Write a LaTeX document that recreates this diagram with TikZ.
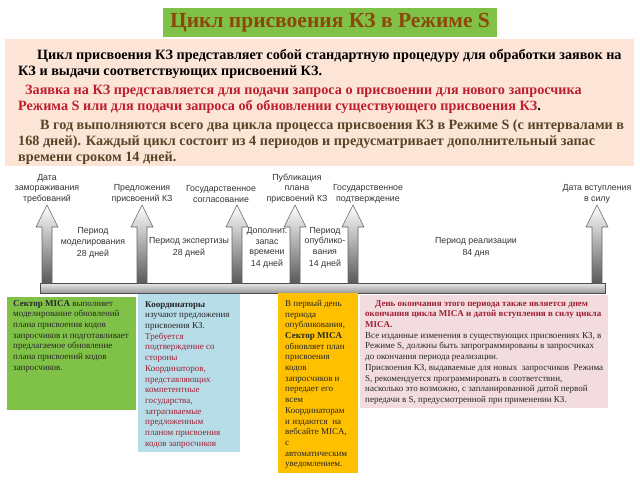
\documentclass[tikz,border=0pt]{standalone}
\usepackage{fontspec}
\setmainfont{Liberation Serif}
\setsansfont{Liberation Sans}
\usetikzlibrary{positioning}
\definecolor{titlegreen}{RGB}{128,194,72}
\definecolor{titlebrown}{RGB}{140,72,10}
\definecolor{peach}{RGB}{252,229,214}
\definecolor{introred}{RGB}{190,30,45}
\definecolor{introbrown}{RGB}{85,70,40}
\definecolor{boxred}{RGB}{160,30,50}
\definecolor{skyblue}{RGB}{183,221,232}
\definecolor{amber}{RGB}{255,192,0}
\definecolor{rose}{RGB}{242,220,224}

\begin{document}
\begin{tikzpicture}[x=1pt,y=-1pt,
  panel/.style={anchor=north west,inner sep=0pt,outer sep=0pt},
  intro/.style={anchor=north west,inner sep=0pt,align=left,font=\bfseries\fontsize{14.2}{16.2}\selectfont},
  note/.style={anchor=north west,inner sep=0pt,align=left,font=\fontsize{9}{10.7}\selectfont,text=black!85},
  milestone/.style={font=\sffamily\fontsize{8.8}{10.5}\selectfont,text=black!80,align=center},
  shaft/.style={top color=white,bottom color=black!65,draw=black!60,line width=0.6pt}]
  \useasboundingbox (0,0) rectangle (640,480);

  \node[fill=titlegreen,minimum width=334pt,minimum height=29pt,text=titlebrown,
        font=\bfseries\fontsize{21.5}{24}\selectfont] (title) at (330,22.5) {Цикл присвоения КЗ в Режиме S};

  \node[panel,fill=peach,minimum width=629pt,minimum height=127pt] (introbox) at (5,39) {};
  \node[intro] (introtext) at (18,49) {\hspace*{19pt}Цикл присвоения КЗ представляет собой стандартную процедуру для обработки заявок на\\
    КЗ и выдачи соответствующих присвоений КЗ.\\[3pt]
    \textcolor{introred}{\hspace*{7pt}Заявка на КЗ представляется для подачи запроса о присвоении для нового запросчика}\\
    \textcolor{introred}{Режима S или для подачи запроса об обновлении существующего присвоения КЗ}.\\[2pt]
    \textcolor{introbrown}{\hspace*{22pt}В год выполняются всего два цикла процесса присвоения КЗ в Режиме S (с интервалами в}\\
    \textcolor{introbrown}{168 дней). Каждый цикл состоит из 4 периодов и предусматривает дополнительный запас}\\
    \textcolor{introbrown}{времени сроком 14 дней.}};

  \shade[top color=black!8,bottom color=black!40,draw=black!70] (40,283) rectangle (605,293);
  \foreach \x in {47,142,237,295,353,597}
    \shade[shaft] (\x-5,283) -- (\x-5,227) -- (\x-11,227) -- (\x,205) -- (\x+11,227) -- (\x+5,227) -- (\x+5,283) -- cycle;

  \node[milestone] (freeze) at (47,188.5) {Дата\\замораживания\\требований};
  \node[milestone] (propose) at (142,194) {Предложения\\присвоений КЗ};
  \node[milestone] (agree) at (221,194) {Государственное\\согласование};
  \node[milestone] (publish) at (297,188.5) {Публикация\\плана\\присвоений КЗ};
  \node[milestone] (confirm) at (368,194) {Государственное\\подтверждение};
  \node[milestone] (effect) at (597,194) {Дата вступления\\в силу};

  \node[milestone] (model) at (93,243) {Период\\моделирования\\[2pt]28 дней};
  \node[milestone] (review) at (189,247.5) {Период экспертизы\\[2pt]28 дней};
  \node[milestone] (reserve) at (267,248) {Дополнит.\\запас\\времени\\[1pt]14 дней};
  \node[milestone] (publ) at (325,248) {Период\\опублико-\\вания\\[2pt]14 дней};
  \node[milestone] (impl) at (476,247.5) {Период реализации\\[2pt]84 дня};

  \node[panel,fill=titlegreen,minimum width=129pt,minimum height=113pt] (micabox) at (7,297) {};
  \node[note] (micatext) at (13,300) {\textbf{Сектор MICA} выполняет\\моделирование обновлений\\плана присвоения кодов\\запросчиков и подготавливает\\предлагаемое обновление\\плана присвоений кодов\\запросчиков.};

  \node[panel,fill=skyblue,minimum width=102pt,minimum height=158pt] (coordbox) at (138,294) {};
  \node[note] (coordtext) at (145,301) {\textbf{Координаторы}\\изучают предложения\\присвоения КЗ.\\
    \textcolor{boxred}{Требуется}\\\textcolor{boxred}{подтверждение со}\\\textcolor{boxred}{стороны}\\
    \textcolor{boxred}{Координаторов,}\\\textcolor{boxred}{представляющих}\\\textcolor{boxred}{компетентные}\\
    \textcolor{boxred}{государства,}\\\textcolor{boxred}{затрагиваемые}\\\textcolor{boxred}{предложенным}\\
    \textcolor{boxred}{планом присвоения}\\\textcolor{boxred}{кодов запросчиков}};

  \node[panel,fill=amber,minimum width=80pt,minimum height=180pt] (pubbox) at (278,293) {};
  \node[note] (pubtext) at (285,300) {В первый день\\периода\\опубликования,\\\textbf{Сектор MICA}\\обновляет план\\присвоения\\кодов\\запросчиков и\\передает его\\всем\\Координаторам\\и издаются \ на\\вебсайте MICA,\\с\\автоматическим\\уведомлением.};

  \node[panel,fill=rose,minimum width=248pt,minimum height=113pt] (endbox) at (360,295) {};
  \node[note] (endtext) at (365,300) {\textcolor{boxred}{\bfseries\hspace*{10pt}День окончания этого периода также является днем}\\
    \textcolor{boxred}{\bfseries окончания цикла MICA и датой вступления в силу цикла}\\
    \textcolor{boxred}{\bfseries MICA.}\\
    Все изданные изменения в существующих присвоениях КЗ, в\\
    Режиме S, должны быть запрограммированы в запросчиках\\
    до окончания периода реализации.\\
    Присвоения КЗ, выдаваемые для новых \ запросчиков \ Режима\\
    S, рекомендуется программировать в соответствии,\\
    насколько это возможно, с запланированной датой первой\\
    передачи в S, предусмотренной при применении КЗ.};
\end{tikzpicture}
\end{document}
